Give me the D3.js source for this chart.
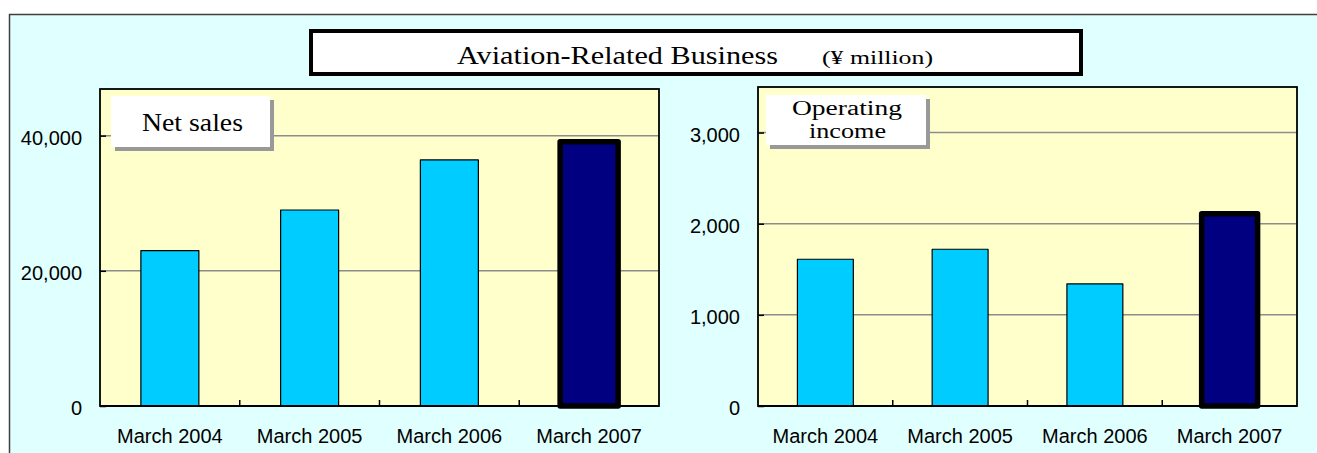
<!DOCTYPE html>
<html>
<head>
<meta charset="utf-8">
<script src="https://cdn.jsdelivr.net/npm/d3@7"></script>
<style>
  html, body { margin: 0; padding: 0; background: #ffffff; }
  svg { display: block; }
</style>
</head>
<body>
<script>
// data (¥ million)
const periods = ["March 2004", "March 2005", "March 2006", "March 2007"];
const netSales = [23000, 29000, 36400, 39100];
const operatingIncome = [1610, 1720, 1340, 2110];
const salesTicks = [0, 20000, 40000];
const incomeTicks = [0, 1000, 2000, 3000];
const titleText = "Aviation-Related Business";
const unitText = "(¥ million)";

const W = 1317, H = 453;
const c_light = "#00ccff", c_dark = "#000080";
const c_plot = "#ffffcc", c_back = "#e0ffff";
const serif = "'Liberation Serif', 'Times New Roman', serif";
const sans = "'Liberation Sans', Arial, sans-serif";

const svg = d3.select("body").append("svg")
  .attr("width", W).attr("height", H);

// outer frame, runs off the right and bottom edges
svg.append("rect")
  .attr("x", 9.5).attr("y", 14.5)
  .attr("width", W + 20).attr("height", H + 20)
  .attr("fill", c_back)
  .attr("stroke", "#404040").attr("stroke-width", 1.5);

// title box
svg.append("rect")
  .attr("x", 311).attr("y", 31).attr("width", 770).attr("height", 43)
  .attr("fill", "#fff").attr("stroke", "#000").attr("stroke-width", 4);

svg.append("text")
  .attr("x", 457).attr("y", 64)
  .attr("font-family", serif).attr("font-size", 26)
  .attr("textLength", 321).attr("lengthAdjust", "spacingAndGlyphs")
  .text(titleText);

svg.append("text")
  .attr("x", 822).attr("y", 64)
  .attr("font-family", serif).attr("font-size", 19)
  .attr("textLength", 111).attr("lengthAdjust", "spacingAndGlyphs")
  .text(unitText);

function drawPanel(opt) {
  const g = svg.append("g");
  const {left, right, top, bottom} = opt;

  const x = d3.scaleBand()
    .domain(periods)
    .range([left, right])
    .paddingInner(0.585)
    .paddingOuter(0.2925);

  const y = d3.scaleLinear()
    .domain([0, opt.yMax])
    .range([bottom, top]);

  // plot area
  g.append("rect")
    .attr("x", left).attr("y", top)
    .attr("width", right - left).attr("height", bottom - top)
    .attr("fill", c_plot);

  // gridlines
  g.append("g")
    .selectAll("line")
    .data(opt.ticks.filter(d => d > 0))
    .join("line")
    .attr("x1", left).attr("x2", right)
    .attr("y1", d => y(d)).attr("y2", d => y(d))
    .attr("stroke", "#8c8c8c").attr("stroke-width", 1.5);

  // bars
  const last = periods.length - 1;
  g.append("g")
    .selectAll("rect")
    .data(opt.values)
    .join("rect")
    .attr("x", (d, i) => x(periods[i]))
    .attr("y", d => y(d))
    .attr("width", x.bandwidth())
    .attr("height", d => y(0) - y(d))
    .attr("fill", (d, i) => i === last ? c_dark : c_light)
    .attr("stroke", "#000")
    .attr("stroke-width", (d, i) => i === last ? 5.5 : 1.2)
    .attr("stroke-linejoin", "round");

  // plot border
  g.append("rect")
    .attr("x", left).attr("y", top)
    .attr("width", right - left).attr("height", bottom - top)
    .attr("fill", "none")
    .attr("stroke", "#000").attr("stroke-width", 1.8);

  // y axis, ticks inside
  const yAxis = g.append("g")
    .attr("transform", `translate(${left},0)`)
    .call(d3.axisLeft(y)
      .tickValues(opt.ticks)
      .tickSize(-6)
      .tickPadding(18)
      .tickFormat(d3.format(",")));
  yAxis.select(".domain").remove();
  yAxis.selectAll(".tick line").attr("stroke", "#000").attr("stroke-width", 1.5);
  yAxis.selectAll(".tick text")
    .attr("font-family", sans).attr("font-size", 20)
    .attr("fill", "#000").attr("dy", "0.43em");

  // x axis labels
  const xAxis = g.append("g")
    .attr("transform", `translate(0,${bottom})`)
    .call(d3.axisBottom(x).tickSize(0).tickPadding(23));
  xAxis.select(".domain").remove();
  xAxis.selectAll(".tick text")
    .attr("font-family", sans).attr("font-size", 20)
    .attr("fill", "#000");

  // category boundary ticks, pointing up
  g.append("g")
    .selectAll("line")
    .data(d3.range(1, periods.length))
    .join("line")
    .attr("x1", i => left + i * x.step()).attr("x2", i => left + i * x.step())
    .attr("y1", bottom).attr("y2", bottom - 6)
    .attr("stroke", "#000").attr("stroke-width", 1.5);

  // x axis line
  g.append("line")
    .attr("x1", left).attr("x2", right)
    .attr("y1", bottom).attr("y2", bottom)
    .attr("stroke", "#000").attr("stroke-width", 2);

  // label box with shadow
  const b = opt.box;
  g.append("rect")
    .attr("x", b.x + 4).attr("y", b.y + 4).attr("width", b.w).attr("height", b.h)
    .attr("fill", "#999");
  g.append("rect")
    .attr("x", b.x).attr("y", b.y).attr("width", b.w).attr("height", b.h)
    .attr("fill", "#fff");
  b.lines.forEach(l => {
    g.append("text")
      .attr("x", l.x).attr("y", l.y)
      .attr("font-family", serif).attr("font-size", l.size)
      .attr("textLength", l.len).attr("lengthAdjust", "spacingAndGlyphs")
      .text(l.text);
  });
}

drawPanel({
  left: 100, right: 659, top: 89, bottom: 406,
  yMax: 46900, ticks: salesTicks, values: netSales,
  box: {x: 111, y: 96, w: 159, h: 51,
        lines: [{text: "Net sales", x: 142, y: 131, size: 25, len: 101}]}
});

drawPanel({
  left: 758, right: 1297, top: 87, bottom: 406,
  yMax: 3500, ticks: incomeTicks, values: operatingIncome,
  box: {x: 766, y: 95, w: 160, h: 50,
        lines: [{text: "Operating", x: 792, y: 115, size: 20, len: 110},
                {text: "income", x: 809, y: 138, size: 20, len: 77}]}
});
</script>
</body>
</html>
